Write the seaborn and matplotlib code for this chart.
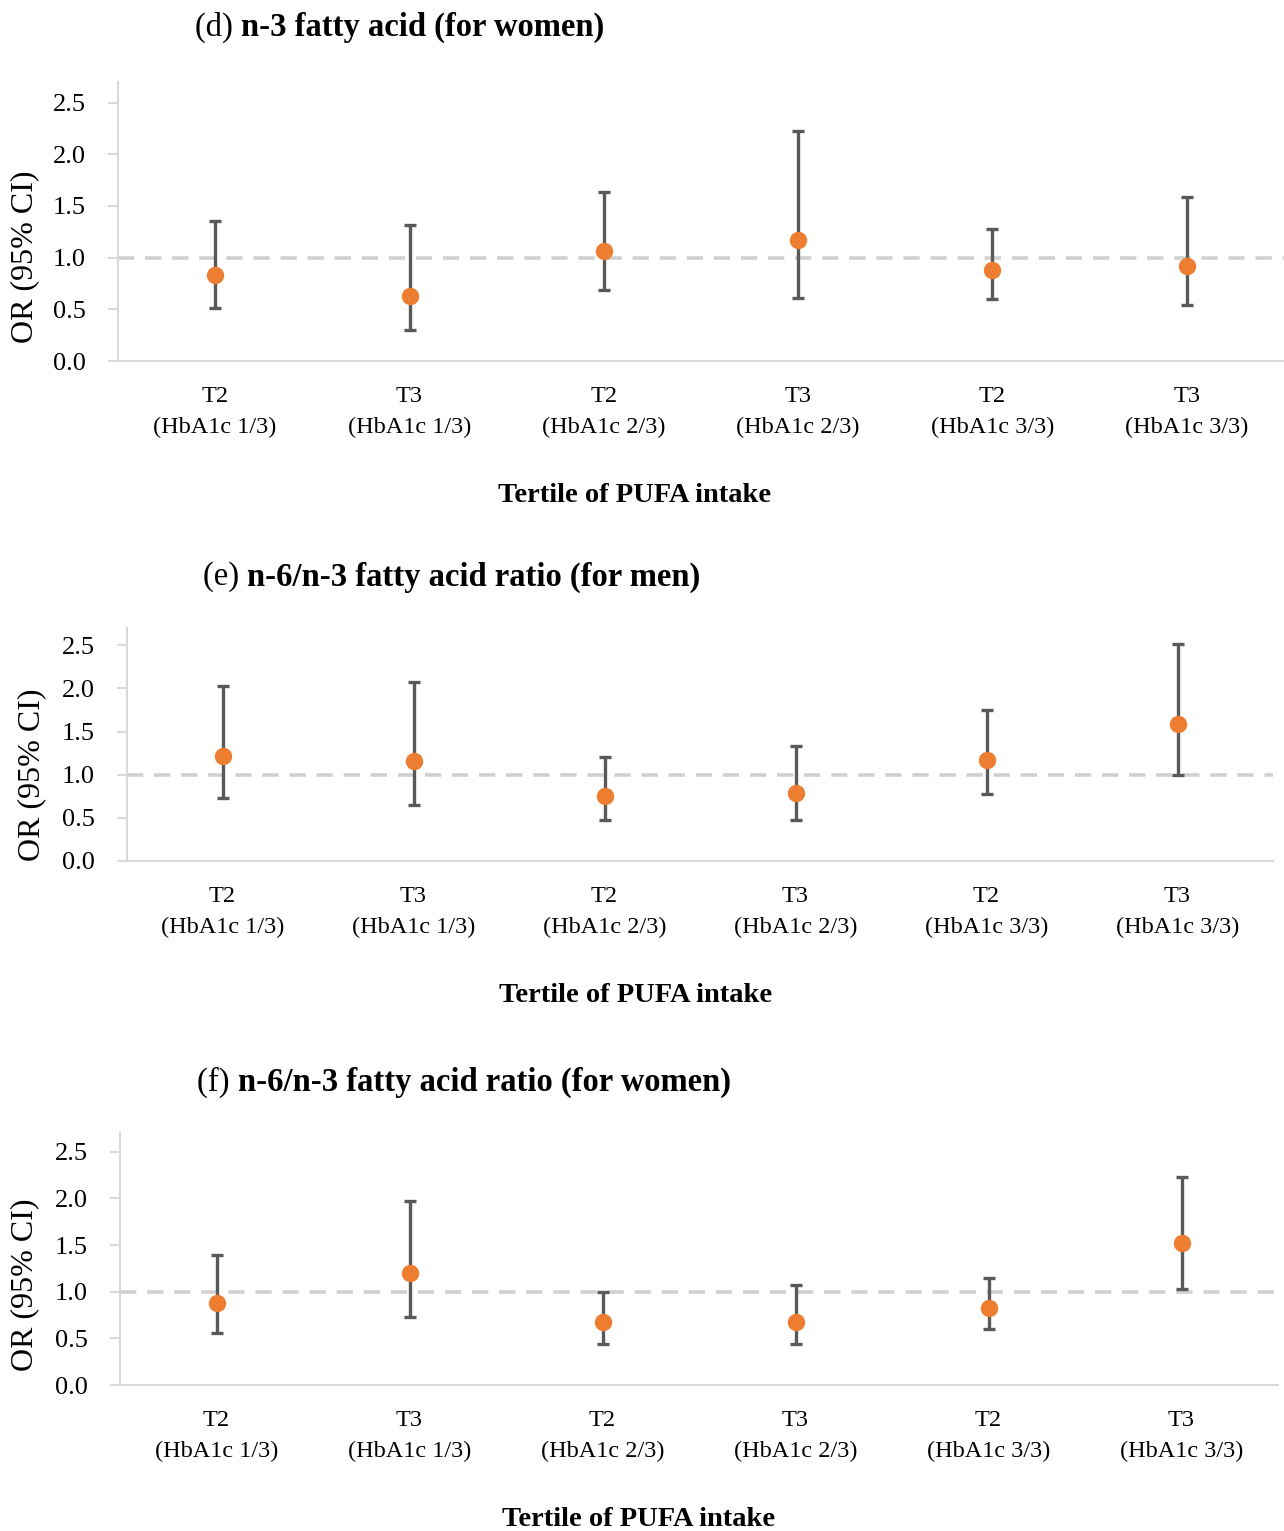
import numpy as np
import pandas as pd
import seaborn as sns
import matplotlib.pyplot as plt

sns.set_theme(style="white")
plt.rcParams['font.family'] = ['Liberation Serif', 'DejaVu Serif']
plt.rcParams['text.color'] = 'black'

# x categories, shared by all three panels
tertiles = ["T2", "T3", "T2", "T3", "T2", "T3"]
hba1c = ["1/3", "1/3", "2/3", "2/3", "3/3", "3/3"]
labels = [f"{t}\n(HbA1c {h})" for t, h in zip(tertiles, hba1c)]

# (d) n-3 fatty acid, women
d_or = [0.83, 0.63, 1.06, 1.17, 0.88, 0.92]
d_lo = [0.51, 0.30, 0.69, 0.61, 0.60, 0.54]
d_hi = [1.35, 1.32, 1.64, 2.23, 1.28, 1.59]

# (e) n-6/n-3 ratio, men
e_or = [1.22, 1.16, 0.75, 0.79, 1.17, 1.59]
e_lo = [0.73, 0.65, 0.47, 0.47, 0.78, 1.00]
e_hi = [2.03, 2.08, 1.21, 1.33, 1.75, 2.52]

# (f) n-6/n-3 ratio, women
f_or = [0.88, 1.20, 0.67, 0.68, 0.83, 1.52]
f_lo = [0.56, 0.73, 0.44, 0.44, 0.60, 1.03]
f_hi = [1.39, 1.97, 1.00, 1.07, 1.15, 2.23]

W, H = 1284, 1531
fig = plt.figure(figsize=(W / 100, H / 100), dpi=100)

ORANGE = "#ED7D31"
BAR = "#595959"
GRID = "#D9D9D9"


def px_rect(left, top, right, bottom):
    return [left / W, 1 - bottom / H, (right - left) / W, (bottom - top) / H]


def panel(rect, odds, lo, hi, tag, title, title_xy, ylab_xy, xlab_xy):
    ax = fig.add_axes(px_rect(*rect))
    df = pd.DataFrame({"label": labels, "OR": odds, "lo": lo, "hi": hi})
    ax.axhline(1.0, color="#D0D0D0", lw=2.6, ls=(0, (4.5, 3)), zorder=1)
    ax.errorbar(np.arange(len(df)), df["OR"],
                yerr=[df["OR"] - df["lo"], df["hi"] - df["OR"]],
                fmt="none", ecolor=BAR, elinewidth=2.4, capsize=4.5,
                capthick=2.4, zorder=2)
    sns.pointplot(data=df, x="label", y="OR", color=ORANGE, errorbar=None,
                  linestyle="none", markers="o", markersize=10.5, ax=ax,
                  zorder=3)
    ax.set_xlim(-0.5, len(df) - 0.5)
    ax.set_ylim(0, 2.7)
    ax.set_yticks([0, 0.5, 1.0, 1.5, 2.0, 2.5])
    ax.set_yticklabels([f"{v:.1f}" for v in ax.get_yticks()])
    ax.set_xlabel("")
    ax.set_ylabel("")
    for s in ["top", "right"]:
        ax.spines[s].set_visible(False)
    for s in ["left", "bottom"]:
        ax.spines[s].set_color(GRID)
        ax.spines[s].set_linewidth(1.5)
    ax.tick_params(axis="y", left=True, length=7, width=1.5, color=GRID,
                   labelsize=19, pad=16, labelcolor="black")
    ax.tick_params(axis="x", bottom=False, labelsize=17.5, pad=12,
                   labelcolor="black")
    for t in ax.get_xticklabels():
        t.set_linespacing(1.6)

    tx, ty = title_xy
    t1 = fig.text(tx / W, 1 - ty / H, f"({tag}) ", fontsize=23.5, va="center")
    fig.canvas.draw()
    bb = t1.get_window_extent()
    fig.text(bb.x1 / W, 1 - ty / H, title, fontsize=23.5, fontweight="bold",
             va="center")
    fig.text(ylab_xy[0] / W, 1 - ylab_xy[1] / H, "OR (95% CI)", fontsize=23,
             rotation=90, ha="center", va="center")
    fig.text(xlab_xy[0] / W, 1 - xlab_xy[1] / H, "Tertile of PUFA intake",
             fontsize=20.5, fontweight="bold", ha="center", va="center")


panel((118, 82, 1284, 361), d_or, d_lo, d_hi, "d",
      "n-3 fatty acid (for women)", (195, 27), (25, 257), (635, 496))
panel((127, 628, 1273, 861), e_or, e_lo, e_hi, "e",
      "n-6/n-3 fatty acid ratio (for men)", (203, 577), (32, 775), (636, 995))
panel((120, 1133, 1278, 1385), f_or, f_lo, f_hi, "f",
      "n-6/n-3 fatty acid ratio (for women)", (197, 1082), (25, 1285),
      (639, 1519))

fig.savefig("out.png", dpi=100, facecolor="white")
